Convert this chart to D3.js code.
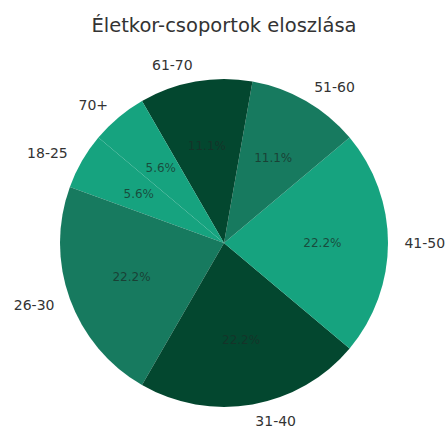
<!DOCTYPE html>
<html lang="hu">
<head>
  <meta charset="UTF-8">
  <title>Életkor-csoportok eloszlása</title>
  <style>
  body { margin: 0; background: #fff; }
  svg text { font-family: "DejaVu Sans", sans-serif; }
  </style>
</head>
<body>
  <svg id="chart" width="448" height="428"></svg>
  <script src="https://cdn.jsdelivr.net/npm/d3@7"></script>
  <script>

const groups = ['18-25', '26-30', '31-40', '41-50', '51-60', '61-70', '70+']
const counts = [1, 4, 4, 4, 2, 2, 1]
const colors = ['#16a37f', '#177a5f', '#03472f']

const cx = 224, cy = 243, r = 164
const deg = Math.PI / 180

const svg = d3.select('#chart')
const g = svg.append('g').attr('transform', `translate(${cx},${cy})`)

// matplotlib style: counterclockwise from 140 degrees
const pie = d3.pie()
  .sort(null)
  .startAngle((90 - 140) * deg)
  .endAngle((90 - 140 - 360) * deg)

const arcs = pie(counts)
const total = d3.sum(counts)

const arc = d3.arc().innerRadius(0).outerRadius(r)
const labelArc = d3.arc().innerRadius(r * 1.1).outerRadius(r * 1.1)
const pctArc = d3.arc().innerRadius(r * 0.6).outerRadius(r * 0.6)

g.selectAll('path.slice')
  .data(arcs)
  .join('path')
  .attr('class', 'slice')
  .attr('d', arc)
  .attr('fill', (d, i) => colors[i % colors.length])

g.selectAll('text.label')
  .data(arcs)
  .join('text')
  .attr('class', 'label')
  .attr('transform', d => `translate(${labelArc.centroid(d)})`)
  .attr('text-anchor', d => labelArc.centroid(d)[0] >= 0 ? 'start' : 'end')
  .attr('dominant-baseline', 'central')
  .attr('font-size', 14)
  .attr('fill', '#333')
  .text((d, i) => groups[i])

g.selectAll('text.pct')
  .data(arcs)
  .join('text')
  .attr('class', 'pct')
  .attr('transform', d => `translate(${pctArc.centroid(d)})`)
  .attr('text-anchor', 'middle')
  .attr('dominant-baseline', 'central')
  .attr('font-size', 12)
  .attr('fill', '#1a2e27')
  .attr('fill-opacity', 0.75)
  .text(d => (d.value / total * 100).toFixed(1) + '%')

svg.append('text')
  .attr('x', cx)
  .attr('y', 32)
  .attr('text-anchor', 'middle')
  .attr('font-size', 19.5)
  .attr('fill', '#333')
  .text('Életkor-csoportok eloszlása')

  </script>
</body>
</html>
